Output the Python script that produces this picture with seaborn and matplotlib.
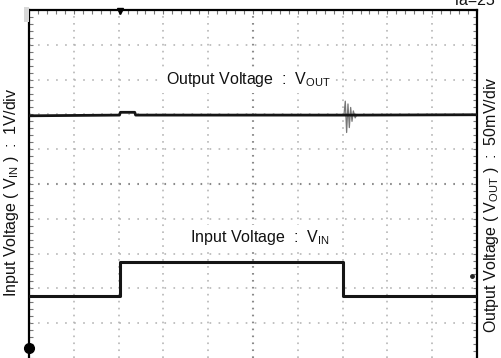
import matplotlib
matplotlib.use("Agg")
import matplotlib.pyplot as plt
from matplotlib.patches import Rectangle
import numpy as np
import pandas as pd
import seaborn as sns

sns.set_theme(style="white")
plt.rcParams["font.family"] = ["Liberation Sans", "DejaVu Sans"]
plt.rcParams["mathtext.fontset"] = "custom"
plt.rcParams["mathtext.rm"] = "Liberation Sans"
plt.rcParams["lines.scale_dashes"] = False

# Time axis in divisions (10 div full screen), vertical axis in divisions (0..10)
vin_time = [0.0, 2.03, 2.03, 7.0, 7.0, 10.0]
vin_div = [1.78, 1.78, 2.76, 2.76, 1.78, 1.78]

# output trace: steady level with a small bump at the rising edge
vout_time = [0.0, 2.02, 2.04, 2.36, 2.38, 7.03, 7.40, 10.0]
vout_div = [6.96, 6.98, 7.06, 7.06, 6.98, 6.98, 6.98, 6.99]

# ringing burst at the falling edge
ring_time = [7.03, 7.06, 7.09, 7.12, 7.15, 7.18, 7.21, 7.24, 7.28, 7.32]
ring_div = [6.98, 7.38, 6.48, 7.30, 6.62, 7.20, 6.80, 7.10, 6.90, 7.00]

x_divs = list(range(11))
y_divs = list(range(11))

vin = pd.DataFrame({"t": vin_time, "v": vin_div})
vout = pd.DataFrame({"t": vout_time, "v": vout_div})
ring = pd.DataFrame({"t": ring_time, "v": ring_div})

W, H = 502, 358
fig = plt.figure(figsize=(W / 100, H / 100), dpi=100)
fig.patch.set_facecolor("white")
ax = fig.add_axes([29 / W, 0.0, 448 / W, 348 / H])
ax.set_facecolor("white")
ax.set_xlim(0, 10)
ax.set_ylim(0, 10)

grid_col = "#b0b0b0"
# dotted graticule
for xv in x_divs[1:-1]:
    ax.axvline(xv, color=grid_col if xv != 5 else "#8a8a8a",
               lw=1.1 if xv != 5 else 1.5, ls=(0, (1.2, 3.8)), zorder=1)
for yv in y_divs[1:-1]:
    ax.axhline(yv, color=grid_col if yv != 5 else "#8a8a8a",
               lw=1.1 if yv != 5 else 1.5, ls=(0, (1.2, 5.3)), zorder=1)

# traces
sns.lineplot(data=ring, x="t", y="v", ax=ax, color="#777777", lw=0.9,
             estimator=None, sort=False, zorder=3)
sns.lineplot(data=vout, x="t", y="v", ax=ax, color="#151515", lw=2.0,
             estimator=None, sort=False, zorder=4)
sns.lineplot(data=vin, x="t", y="v", ax=ax, color="#151515", lw=2.2,
             estimator=None, sort=False, zorder=4)

# labels on the screen
ax.text(4.89, 7.99, r"Output Voltage  :  V$_{\mathregular{OUT}}$", ha="center",
        va="center", fontsize=11.5, color="#111111", zorder=5,
        bbox=dict(facecolor="white", edgecolor="none", pad=2.5))
ax.text(5.16, 3.45, r"Input Voltage  :  V$_{\mathregular{IN}}$", ha="center",
        va="center", fontsize=11.5, color="#111111", zorder=5,
        bbox=dict(facecolor="white", edgecolor="none", pad=2.5))

# channel ground marker, trigger marker and stray dot
ax.plot([0.0], [0.29], marker="o", ms=7, color="black", clip_on=False, zorder=6)
ax.plot([0.0, 0.0], [0.0, 0.6], color="black", lw=1.2, clip_on=False, zorder=6)
ax.plot([2.03], [9.97], marker="v", ms=4, color="black", clip_on=False, zorder=6)
ax.plot([9.89], [2.36], marker="o", ms=2.5, color="#222222", zorder=6)

# frame
for side in ["top", "left", "right"]:
    ax.spines[side].set_visible(True)
    ax.spines[side].set_color("black")
    ax.spines[side].set_linewidth(1.6)
ax.spines["bottom"].set_visible(False)

ax.set_xticks([])
ax.set_yticks([])
ax.set_xticks(np.arange(0, 10.01, 0.2), minor=True)
ax.set_yticks(np.arange(0, 10.01, 0.2), minor=True)
ax.tick_params(which="minor", direction="in", length=3, width=0.8,
               color="#777777", top=True, bottom=False, left=True, right=True,
               labelbottom=False, labelleft=False)
ax.set_xlabel("")
ax.set_ylabel("")

fig.add_artist(Rectangle((24 / W, 1 - 22 / H), 5 / W, 15 / H,
                         transform=fig.transFigure, facecolor="#d8d8d8",
                         edgecolor="none"))

fig.text(12 / W, 1 - 192 / H,
         r"Input Voltage ( V$_{\mathregular{IN}}$ )  :  1V/div",
         rotation=90, ha="center", va="center", fontsize=11.5, color="#111111")
fig.text(492 / W, 1 - 205 / H,
         r"Output Voltage ( V$_{\mathregular{OUT}}$ )  :  50mV/div",
         rotation=90, ha="center", va="center", fontsize=11.5, color="#111111")
fig.text(473 / W, 1 - 5 / H, "Ta=25", ha="center", va="baseline",
         fontsize=11.5, color="#111111")

fig.savefig("out.png", dpi=100, facecolor="white")
